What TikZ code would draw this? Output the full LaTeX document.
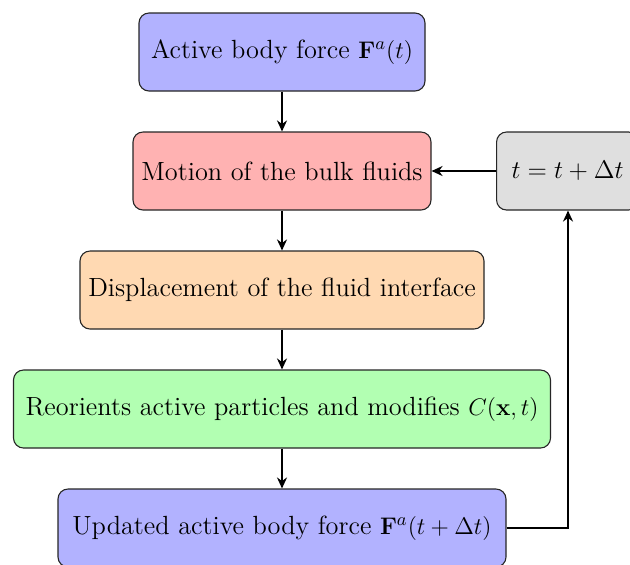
\documentclass[tikz,border=0pt]{standalone}
\usepackage{amsmath}
\usepackage{graphicx}
\usetikzlibrary{arrows.meta}
\begin{document}
\begin{tikzpicture}[x=0.5pt,y=-0.5pt,
  box/.style={draw=black!85, line width=0.55pt, rounded corners=5pt, minimum height=39pt, inner sep=0pt, font=\fontsize{13.15}{15}\selectfont},
  conn/.style={line width=1pt, -{Stealth[length=5.5pt,width=5pt]}}]
\useasboundingbox (0,0) rectangle (630,564);
\node[box, fill=blue!30, minimum width=143pt] (a) at (282,52) {Active body force $\mathbf{F}^a(t)$};
\node[box, fill=red!30, minimum width=149pt] (b) at (282,171) {Motion of the bulk fluids};
\node[box, fill=orange!30, minimum width=202pt] (c) at (282,290) {Displacement of the fluid interface};
\node[box, fill=green!30, minimum width=268.5pt] (d) at (282,409) {Reorients active particles and modifies $C(\mathbf{x},t)$};
\node[box, fill=blue!30, minimum width=224pt] (e) at (282,528) {Updated active body force $\mathbf{F}^{a}(t+\Delta t)$};
\node[box, fill=gray!25, minimum width=71pt, anchor=west] (f) at (496,171) {\scalebox{1.06}{$t=t+\Delta t$}};
\coordinate (k) at (568,528);
\draw[conn] (a) -- (b);
\draw[conn] (b) -- (c);
\draw[conn] (c) -- (d);
\draw[conn] (d) -- (e);
\draw[conn] (f) -- (b);
\draw[conn] (e.east) -- (k) -- (k |- f.south);
\end{tikzpicture}
\end{document}
